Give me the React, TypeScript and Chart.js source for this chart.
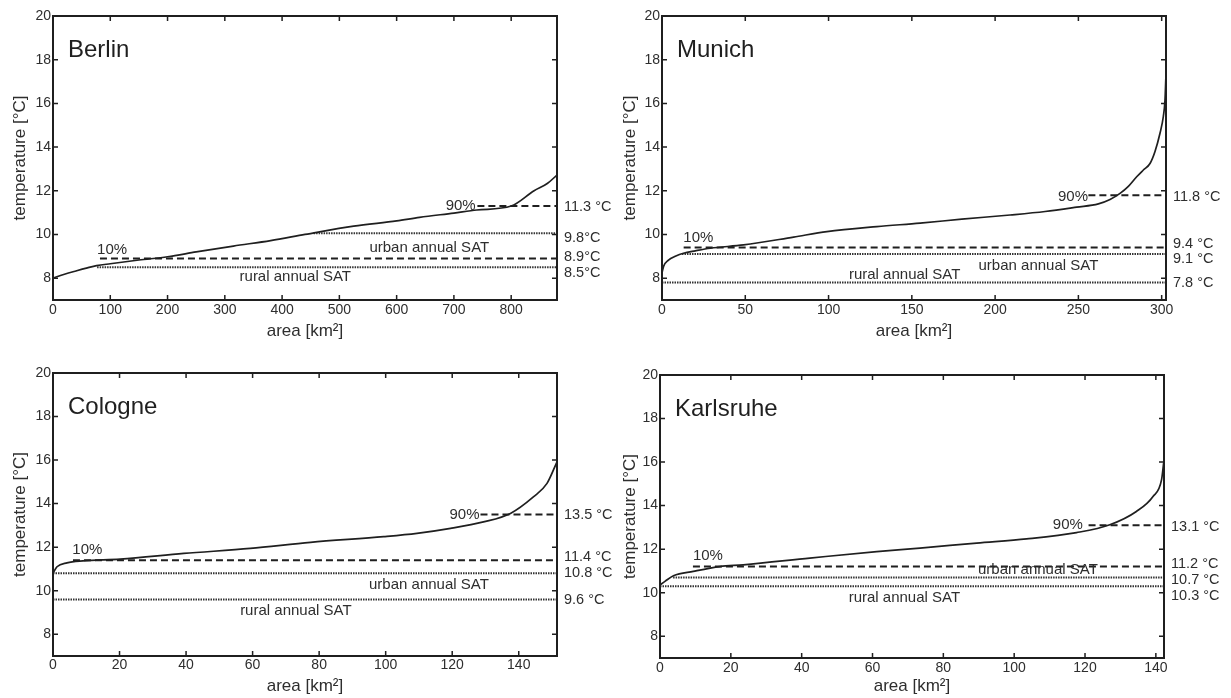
import React, { useEffect, useRef } from 'react';
import { Chart, registerables } from 'chart.js';

Chart.register(...registerables);

const FONT = "'Liberation Sans', Arial, Helvetica, sans-serif";
const INK = '#1f1f1f';
const TEXT = '#2e2e2e';

// shared axis / label data
const yMin = 7;
const yMax = 20;
const yStep = 2;
const xTitle = 'area [km²]';
const yTitle = 'temperature [°C]';
const noteTexts = ['10%', '90%', 'urban annual SAT', 'rural annual SAT'];
const noteAligns = ['left', 'right', 'center', 'center'];

// ---------- Berlin ----------
const berlinArea = [0, 20, 40, 60, 76, 100, 150, 200, 250, 315, 380, 440, 525, 600, 640, 700, 740, 800, 840, 863, 880];
const berlinTemp = [8.0, 8.18, 8.33, 8.47, 8.57, 8.66, 8.83, 8.98, 9.2, 9.47, 9.72, 10.0, 10.38, 10.62, 10.78, 10.98, 11.12, 11.3, 12.0, 12.33, 12.72];
// order: 90 % (dashed), 10 % (dashed), urban SAT (dotted), rural SAT (dotted)
const berlinLevels = [11.3, 8.9, 10.05, 8.5];
const berlinLevelStart = [741, 82, 455, 77];
const berlinRightText = ['11.3 °C', '9.8°C', '8.9°C', '8.5°C'];
const berlinRightY = [11.27, 9.84, 8.97, 8.24];
const berlinNoteX = [77, 738, 657, 423];
const berlinNoteY = [9.29, 11.3, 9.38, 8.05];

// ---------- Munich ----------
const munichArea = [0, 1, 3.9, 8, 12.9, 20, 29, 49, 79, 99, 129, 155, 180, 209, 230, 249, 262, 269, 275, 280, 285, 289, 293, 296, 299, 301, 302, 302.5];
const munichTemp = [8.25, 8.55, 8.83, 9.0, 9.14, 9.25, 9.37, 9.52, 9.88, 10.13, 10.36, 10.52, 10.7, 10.89, 11.05, 11.25, 11.4, 11.6, 11.88, 12.2, 12.64, 12.95, 13.25, 13.8, 14.63, 15.4, 16.15, 17.15];
const munichLevels = [11.8, 9.4, 9.1, 7.8];
const munichLevelStart = [256, 13, 12, 0];
const munichRightText = ['11.8 °C', '9.4 °C', '9.1 °C', '7.8 °C'];
const munichRightY = [11.73, 9.56, 8.88, 7.78];
const munichNoteX = [12.8, 255.8, 226, 145.7];
const munichNoteY = [9.84, 11.73, 8.57, 8.14];

// ---------- Cologne ----------
const cologneArea = [0, 1.2, 4.2, 9, 20.2, 39.3, 59.3, 77.4, 99.4, 109.4, 119.5, 129.4, 137.5, 144.4, 148.5, 151.5];
const cologneTemp = [10.8, 11.1, 11.28, 11.37, 11.45, 11.71, 11.94, 12.22, 12.48, 12.63, 12.86, 13.16, 13.55, 14.31, 14.93, 15.92];
const cologneLevels = [13.5, 11.4, 10.8, 9.6];
const cologneLevelStart = [128.5, 6, 0, 0];
const cologneRightText = ['13.5 °C', '11.4 °C', '10.8 °C', '9.6 °C'];
const cologneRightY = [13.5, 11.56, 10.8, 9.57];
const cologneNoteX = [5.8, 128.2, 113, 73];
const cologneNoteY = [11.86, 13.47, 10.29, 9.08];

// ---------- Karlsruhe ----------
const karlsruheArea = [0, 1.4, 3.8, 9.4, 16.9, 23.5, 42.3, 61.2, 73.4, 89.4, 103.5, 117.6, 127, 134.5, 139.2, 141.6, 142.2];
const karlsruheTemp = [10.36, 10.52, 10.78, 10.98, 11.2, 11.28, 11.59, 11.89, 12.05, 12.28, 12.47, 12.76, 13.12, 13.73, 14.42, 15.18, 15.95];
const karlsruheLevels = [13.1, 11.2, 10.7, 10.3];
const karlsruheLevelStart = [121, 9.3, 3.7, 0];
const karlsruheRightText = ['13.1 °C', '11.2 °C', '10.7 °C', '10.3 °C'];
const karlsruheRightY = [13.04, 11.33, 10.59, 9.86];
const karlsruheNoteX = [9.3, 119.4, 106.7, 69];
const karlsruheNoteY = [11.69, 13.12, 11.05, 9.78];

type Panel = {
  name: string;
  area: number[];
  temp: number[];
  xMax: number;
  xStep: number;
  levels: number[];
  levelStart: number[];
  rightText: string[];
  rightY: number[];
  noteX: number[];
  noteY: number[];
  left: number;
  top: number;
  width: number;
  height: number;
  padTop: number;
  padRight: number;
  yWidth: number;
  xHeight: number;
  xTitlePad: number;
  xTickPad: number;
};

const panels: Panel[] = [
  {
    name: 'Berlin', area: berlinArea, temp: berlinTemp, xMax: 880, xStep: 100,
    levels: berlinLevels, levelStart: berlinLevelStart, rightText: berlinRightText, rightY: berlinRightY,
    noteX: berlinNoteX, noteY: berlinNoteY,
    left: 0, top: 0, width: 620, height: 340, padTop: 16, padRight: 63, yWidth: 53, xHeight: 40, xTitlePad: 0, xTickPad: 2,
  },
  {
    name: 'Munich', area: munichArea, temp: munichTemp, xMax: 302.6, xStep: 50,
    levels: munichLevels, levelStart: munichLevelStart, rightText: munichRightText, rightY: munichRightY,
    noteX: munichNoteX, noteY: munichNoteY,
    left: 610, top: 0, width: 621, height: 340, padTop: 16, padRight: 65, yWidth: 52, xHeight: 40, xTitlePad: 0, xTickPad: 2,
  },
  {
    name: 'Cologne', area: cologneArea, temp: cologneTemp, xMax: 151.5, xStep: 20,
    levels: cologneLevels, levelStart: cologneLevelStart, rightText: cologneRightText, rightY: cologneRightY,
    noteX: cologneNoteX, noteY: cologneNoteY,
    left: 0, top: 340, width: 620, height: 358, padTop: 33, padRight: 63, yWidth: 53, xHeight: 42, xTitlePad: 3, xTickPad: 1,
  },
  {
    name: 'Karlsruhe', area: karlsruheArea, temp: karlsruheTemp, xMax: 142.3, xStep: 20,
    levels: karlsruheLevels, levelStart: karlsruheLevelStart, rightText: karlsruheRightText, rightY: karlsruheRightY,
    noteX: karlsruheNoteX, noteY: karlsruheNoteY,
    left: 610, top: 340, width: 621, height: 358, padTop: 35, padRight: 67, yWidth: 50, xHeight: 40, xTitlePad: 3, xTickPad: 2,
  },
];

function makeFramePlugin(p: Panel) {
  return {
    id: 'frame-' + p.name,
    afterDraw(chart: any) {
      const { ctx, chartArea: a, scales } = chart;
      const xs = scales.x;
      const ys = scales.y;
      ctx.save();
      ctx.setLineDash([]);
      ctx.strokeStyle = INK;
      ctx.lineWidth = 2;
      ctx.strokeRect(a.left, a.top, a.right - a.left, a.bottom - a.top);
      ctx.lineWidth = 1.5;
      ctx.beginPath();
      xs.ticks.forEach((t: any) => {
        const px = xs.getPixelForValue(t.value);
        ctx.moveTo(px, a.bottom);
        ctx.lineTo(px, a.bottom - 5);
        ctx.moveTo(px, a.top);
        ctx.lineTo(px, a.top + 5);
      });
      ys.ticks.forEach((t: any) => {
        const py = ys.getPixelForValue(t.value);
        ctx.moveTo(a.left, py);
        ctx.lineTo(a.left + 5, py);
        ctx.moveTo(a.right, py);
        ctx.lineTo(a.right - 5, py);
      });
      ctx.stroke();

      ctx.fillStyle = INK;
      ctx.font = `24px ${FONT}`;
      ctx.textAlign = 'left';
      ctx.textBaseline = 'alphabetic';
      ctx.fillText(p.name, a.left + 15, a.top + 41);

      ctx.fillStyle = TEXT;
      ctx.font = `15px ${FONT}`;
      ctx.textBaseline = 'middle';
      noteTexts.forEach((s, i) => {
        ctx.textAlign = noteAligns[i];
        ctx.fillText(s, xs.getPixelForValue(p.noteX[i]), ys.getPixelForValue(p.noteY[i]));
      });

      ctx.font = `14.5px ${FONT}`;
      ctx.textAlign = 'left';
      p.rightText.forEach((s, i) => {
        ctx.fillText(s, a.right + 7, ys.getPixelForValue(p.rightY[i]));
      });
      ctx.restore();
    },
  };
}

function buildConfig(p: Panel): any {
  const curve = {
    data: p.area.map((x, i) => ({ x, y: p.temp[i] })),
    borderColor: INK,
    borderWidth: 1.7,
    pointRadius: 0,
    cubicInterpolationMode: 'monotone',
    fill: false,
  };
  const levelSets = p.levels.map((v, i) => ({
    data: [
      { x: p.levelStart[i], y: v },
      { x: p.xMax, y: v },
    ],
    borderColor: i < 2 ? INK : '#333333',
    borderWidth: 2,
    borderDash: i < 2 ? [7, 4] : [1.5, 1],
    pointRadius: 0,
    fill: false,
  }));
  return {
    type: 'line',
    data: { datasets: [curve, ...levelSets] },
    options: {
      responsive: false,
      animation: false,
      events: [],
      layout: { padding: { left: 0, top: p.padTop, right: p.padRight, bottom: 0 } },
      plugins: { legend: { display: false }, tooltip: { enabled: false } },
      scales: {
        x: {
          type: 'linear',
          min: 0,
          max: p.xMax,
          grid: { display: false, drawTicks: false },
          border: { display: false },
          ticks: {
            stepSize: p.xStep,
            includeBounds: false,
            autoSkip: false,
            maxRotation: 0,
            padding: p.xTickPad,
            color: TEXT,
            font: { family: FONT, size: 14 },
          },
          title: {
            display: true,
            text: xTitle,
            color: TEXT,
            font: { family: FONT, size: 17, lineHeight: 1 },
            padding: { top: 0, bottom: p.xTitlePad },
          },
          afterFit: (s: any) => {
            s.height = p.xHeight;
          },
        },
        y: {
          type: 'linear',
          min: yMin,
          max: yMax,
          grid: { display: false, drawTicks: false },
          border: { display: false },
          ticks: {
            stepSize: yStep,
            includeBounds: false,
            padding: 2,
            color: TEXT,
            font: { family: FONT, size: 14 },
          },
          title: {
            display: true,
            text: yTitle,
            color: TEXT,
            font: { family: FONT, size: 17, lineHeight: 1 },
            padding: { top: 11.5, bottom: 0 },
          },
          afterFit: (s: any) => {
            s.width = p.yWidth;
          },
        },
      },
    },
    plugins: [makeFramePlugin(p)],
  };
}

function PanelChart({ p }: { p: Panel }) {
  const ref = useRef<HTMLCanvasElement | null>(null);
  useEffect(() => {
    if (!ref.current) return;
    const chart = new Chart(ref.current, buildConfig(p));
    return () => chart.destroy();
  }, [p]);
  return (
    <canvas
      ref={ref}
      width={p.width}
      height={p.height}
      style={{ position: 'absolute', left: p.left, top: p.top, width: p.width, height: p.height }}
    />
  );
}

export default function App() {
  return (
    <div
      style={{
        position: 'absolute',
        left: 0,
        top: 0,
        width: 1231,
        height: 698,
        background: '#ffffff',
        overflow: 'hidden',
      }}
    >
      {panels.map((p) => (
        <PanelChart key={p.name} p={p} />
      ))}
    </div>
  );
}
